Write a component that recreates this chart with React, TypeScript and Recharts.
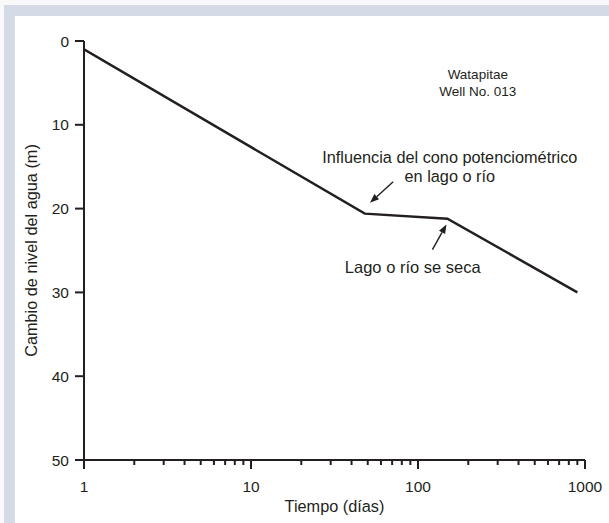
import React from 'react';
import { LineChart, Line, XAxis, YAxis, ReferenceDot, ReferenceLine } from 'recharts';

// ---- data ----
const timeDays = [1, 48, 150, 900];
const levelChange = [1, 20.6, 21.2, 30];

const xMajorTicks = [1, 10, 100, 1000];
const xMinorTicks = [2, 3, 4, 5, 6, 7, 8, 9, 20, 30, 40, 50, 60, 70, 80, 90, 200, 300, 400, 500, 600, 700, 800, 900];
const yTicks = [0, 10, 20, 30, 40, 50];

const xAxisLabel = 'Tiempo (días)';
const yAxisLabel = 'Cambio de nivel del agua (m)';

const wellNameLines = ['Watapitae', 'Well No. 013'];
const wellNameAt = { x: 228, y: [4.0, 6.05] };
const note1Lines = ['Influencia del cono potenciométrico', 'en lago o río'];
const note1At = { x: 155, y: [13.9, 16.1] };
const note2Text = 'Lago o río se seca';
const note2At = { x: 93, y: 27.0 };
const arrow1 = [{ x: 71, y: 16.8 }, { x: 51.6, y: 19.3 }];
const arrow2 = [{ x: 122, y: 24.9 }, { x: 148, y: 21.9 }];

const data = timeDays.map((t, i) => ({ t, level: levelChange[i] }));
const allXTicks = [...xMajorTicks, ...xMinorTicks].sort((a, b) => a - b);

const INK = '#231f20';
const FONT = '"Liberation Sans", Arial, Helvetica, sans-serif';

const XTick = (props: any) => {
  const { x, y, payload } = props;
  const v = payload.value;
  const major = xMajorTicks.includes(v);
  return (
    <g>
      <line x1={x} x2={x} y1={y} y2={y + (major ? 9 : 5)} stroke={INK} strokeWidth={2} />
      {major && (
        <text x={x} y={y + 26} textAnchor="middle" dominantBaseline="central" fontSize={15.5} fill={INK} fontFamily={FONT}>
          {v}
        </text>
      )}
    </g>
  );
};

const TextShape = (text: string, fontSize: number) => (p: any) => (
  <text x={p.cx} y={p.cy} textAnchor="middle" dominantBaseline="central" fontSize={fontSize} fill={INK} fontFamily={FONT}>
    {text}
  </text>
);

const ArrowShape = (p: any) => {
  const { x1, y1, x2, y2 } = p;
  const dx = x2 - x1;
  const dy = y2 - y1;
  const len = Math.sqrt(dx * dx + dy * dy) || 1;
  const ux = dx / len;
  const uy = dy / len;
  const headLen = 9;
  const headW = 3.5;
  const bx = x2 - ux * headLen;
  const by = y2 - uy * headLen;
  const px = -uy;
  const py = ux;
  return (
    <g>
      <line x1={x1} y1={y1} x2={bx} y2={by} stroke={INK} strokeWidth={1.4} />
      <polygon
        points={`${x2},${y2} ${bx + px * headW},${by + py * headW} ${bx - px * headW},${by - py * headW}`}
        fill={INK}
      />
    </g>
  );
};

const YLabel = (props: any) => {
  const vb = props.viewBox || {};
  const cx = vb.x + 7;
  const cy = vb.y + vb.height / 2;
  return (
    <text
      x={cx}
      y={cy}
      transform={`rotate(-90 ${cx} ${cy})`}
      textAnchor="middle"
      dominantBaseline="central"
      fontSize={16.3}
      fill={INK}
      fontFamily={FONT}
    >
      {yAxisLabel}
    </text>
  );
};

export default function App() {
  return (
    <div style={{ position: 'absolute', left: 0, top: 0, width: 609, height: 523, background: '#f9f9fb', overflow: 'hidden' }}>
      <div style={{ position: 'absolute', left: 4, top: 5, width: 605, height: 518, background: '#d5dbe6' }} />
      <div style={{ position: 'absolute', left: 15, top: 16, width: 594, height: 507, background: '#ffffff' }} />
      <div style={{ position: 'absolute', left: 0, top: 0 }}>
        <LineChart width={609} height={523} data={data} margin={{ top: 41, right: 24, bottom: 23, left: 24 }}>
          <XAxis
            dataKey="t"
            type="number"
            scale="log"
            domain={[1, 1000]}
            ticks={allXTicks}
            interval={0}
            allowDataOverflow
            height={40}
            tickSize={0}
            tickMargin={0}
            tickLine={false}
            tick={<XTick />}
            axisLine={{ stroke: INK, strokeWidth: 2 }}
            label={{ value: xAxisLabel, position: 'bottom', offset: 0, fontSize: 16.3, fill: INK, fontFamily: FONT }}
          />
          <YAxis
            type="number"
            reversed
            domain={[0, 50]}
            ticks={yTicks}
            interval={0}
            width={60}
            tickSize={9}
            tickMargin={6}
            tickLine={{ stroke: INK, strokeWidth: 2 }}
            axisLine={{ stroke: INK, strokeWidth: 2 }}
            tick={{ fontSize: 15.5, fill: INK, fontFamily: FONT }}
            label={{ content: <YLabel /> }}
          />
          <Line
            dataKey="level"
            type="linear"
            stroke={INK}
            strokeWidth={2.5}
            dot={false}
            activeDot={false}
            isAnimationActive={false}
          />
          <ReferenceDot x={wellNameAt.x} y={wellNameAt.y[0]} r={0} shape={TextShape(wellNameLines[0], 13.5)} />
          <ReferenceDot x={wellNameAt.x} y={wellNameAt.y[1]} r={0} shape={TextShape(wellNameLines[1], 13.5)} />
          <ReferenceDot x={note1At.x} y={note1At.y[0]} r={0} shape={TextShape(note1Lines[0], 16.3)} />
          <ReferenceDot x={note1At.x} y={note1At.y[1]} r={0} shape={TextShape(note1Lines[1], 16.3)} />
          <ReferenceDot x={note2At.x} y={note2At.y} r={0} shape={TextShape(note2Text, 16.5)} />
          <ReferenceLine segment={arrow1} shape={ArrowShape} />
          <ReferenceLine segment={arrow2} shape={ArrowShape} />
        </LineChart>
      </div>
    </div>
  );
}
